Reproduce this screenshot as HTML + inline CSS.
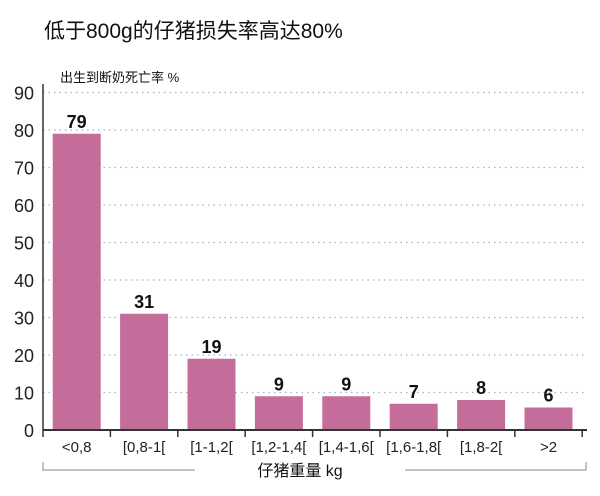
<!DOCTYPE html>
<html><head><meta charset="utf-8"><style>
body{margin:0;background:#fff;width:600px;height:491px;overflow:hidden;font-family:"Liberation Sans","Noto Sans CJK SC",sans-serif;}
</style></head><body>
<svg width="600" height="491" xmlns="http://www.w3.org/2000/svg">
<text x="44" y="38" font-size="21" fill="#111" font-family="Liberation Sans, Noto Sans CJK SC, sans-serif">低于800g的仔猪损失率高达80%</text>
<text x="60" y="82" font-size="13" fill="#111" font-family="Liberation Sans, Noto Sans CJK SC, sans-serif">出生到断奶死亡率 %</text>
<g id="grid"></g><g id="bars"></g><g id="axes"></g>
<polyline points="43,462 43,470 195,470" fill="none" stroke="#888" stroke-width="1"/>
<polyline points="405,470 586,470 586,462" fill="none" stroke="#888" stroke-width="1"/>
<text x="300" y="476" font-size="16" text-anchor="middle" fill="#111" font-family="Liberation Sans, Noto Sans CJK SC, sans-serif">仔猪重量 kg</text>
</svg>
<script>
const categories=["<0,8","[0,8-1[","[1-1,2[","[1,2-1,4[","[1,4-1,6[","[1,6-1,8[","[1,8-2[",">2"];
const values=[79,31,19,9,9,7,8,6];
const yTicks=[0,10,20,30,40,50,60,70,80,90];
const NS="http://www.w3.org/2000/svg";
const x0=43,step=67.4,base=430,k=3.75;
const xs=i=>x0+i*step, ys=v=>base-v*k;
function mk(t,a,p){const e=document.createElementNS(NS,t);for(const n in a)e.setAttribute(n,a[n]);p.appendChild(e);return e;}
const grid=document.getElementById('grid'),bars=document.getElementById('bars'),axes=document.getElementById('axes');
yTicks.forEach(v=>{
 if(v>0){const l=mk('line',{x1:x0,x2:586,y1:ys(v),y2:ys(v),stroke:'#9fb3c0','stroke-dasharray':'1.5 4','stroke-width':1.3},grid);
 
 }
 const t=mk('text',{x:34,y:ys(v)+7,'font-size':18,'text-anchor':'end',fill:'#222'},axes);t.textContent=v;
 
 
});
const ya=mk('line',{x1:x0,x2:x0,y1:84,y2:base,stroke:'#333','stroke-width':1.5},axes);


const xa=mk('line',{x1:x0,x2:587,y1:base,y2:base,stroke:'#333','stroke-width':2},axes);


for(let i=0;i<=categories.length;i++){const t=mk('line',{x1:xs(i),x2:xs(i),y1:base,y2:base+7,stroke:'#333','stroke-width':1.5},axes);
 
 }
categories.forEach((c,i)=>{
 const cx=xs(i)+step/2;
 const r=mk('rect',{x:cx-24,y:ys(values[i]),width:48,height:values[i]*k,fill:'#c56d9a'},bars);
 
 
 const v=mk('text',{x:cx,y:ys(values[i])-6,'font-size':18,'font-weight':'bold','text-anchor':'middle',fill:'#111'},bars);v.textContent=values[i];
 
 
 const l=mk('text',{x:cx,y:452,'font-size':15,'text-anchor':'middle',fill:'#222'},axes);l.textContent=c;
 
 
});
</script>
</body></html>
